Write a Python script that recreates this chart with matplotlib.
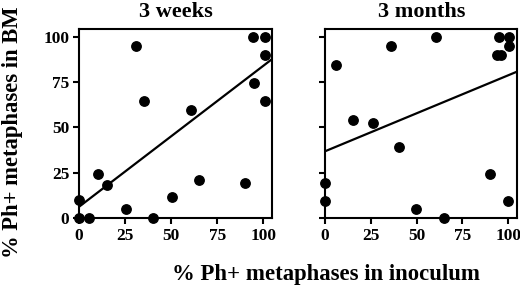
import matplotlib
matplotlib.use('Agg')
from matplotlib import pyplot as plt
import numpy as np

plt.rcParams['font.family'] = 'Liberation Serif'
plt.rcParams['font.weight'] = 'bold'

# 3 weeks panel
weeks_x = [0, 0, 5.4, 10.3, 15.2, 25.7, 30.8, 35.5, 40.4, 50.5, 60.7, 65.2, 90, 94.6, 95.1, 100.9, 100.9, 100.9]
weeks_y = [10, 0, 0, 24.3, 18.6, 4.9, 94.7, 64.5, 0, 12, 59.6, 21, 19.7, 99.5, 74.4, 99.5, 89.8, 64.5]
weeks_fit = (6.4, 0.775)  # intercept, slope

# 3 months panel
months_x = [0, 0, 6.0, 15.5, 26, 36, 40.6, 49.7, 60.7, 65.1, 90.1, 93.8, 96, 94.7, 100.5, 100.5, 100]
months_y = [19.7, 9.7, 84.1, 54.1, 52.3, 94.7, 39.5, 4.9, 99.5, 0, 24.3, 89.8, 89.8, 99.5, 99.5, 94.7, 9.7]
months_fit = (36.9, 0.418)

ticks = [0, 25, 50, 75, 100]

fig = plt.figure(figsize=(5.2, 2.87), dpi=100)
ax1 = fig.add_axes([0.152, 0.239, 0.372, 0.659])
ax2 = fig.add_axes([0.625, 0.239, 0.370, 0.659])

panels = [(ax1, weeks_x, weeks_y, weeks_fit, '3 weeks'),
          (ax2, months_x, months_y, months_fit, '3 months')]

for ax, xs, ys, fit, title in panels:
    ax.scatter(xs, ys, s=46, color='black', zorder=3, clip_on=False)
    lx = np.array([0, 105])
    ax.plot(lx, fit[0] + fit[1] * lx, color='black', linewidth=1.6)
    ax.set_xlim(0, 105)
    ax.set_ylim(0, 104)
    ax.set_xticks(ticks)
    ax.set_yticks(ticks)
    for sp in ax.spines.values():
        sp.set_linewidth(1.5)
    ax.tick_params(direction='out', length=4, width=1.5, labelsize=12.5, pad=3)
    ax.set_title(title, fontsize=16, fontweight='bold', pad=9)

ax2.set_yticklabels([])

fig.text(0.004, 0.538, '% Ph+ metaphases in BM', fontsize=16.3, fontweight='bold',
         rotation=90, ha='left', va='center')
fig.text(0.627, 0.042, '% Ph+ metaphases in inoculum', fontsize=16.4, fontweight='bold',
         ha='center', va='center')

fig.savefig('out.png', dpi=100)
